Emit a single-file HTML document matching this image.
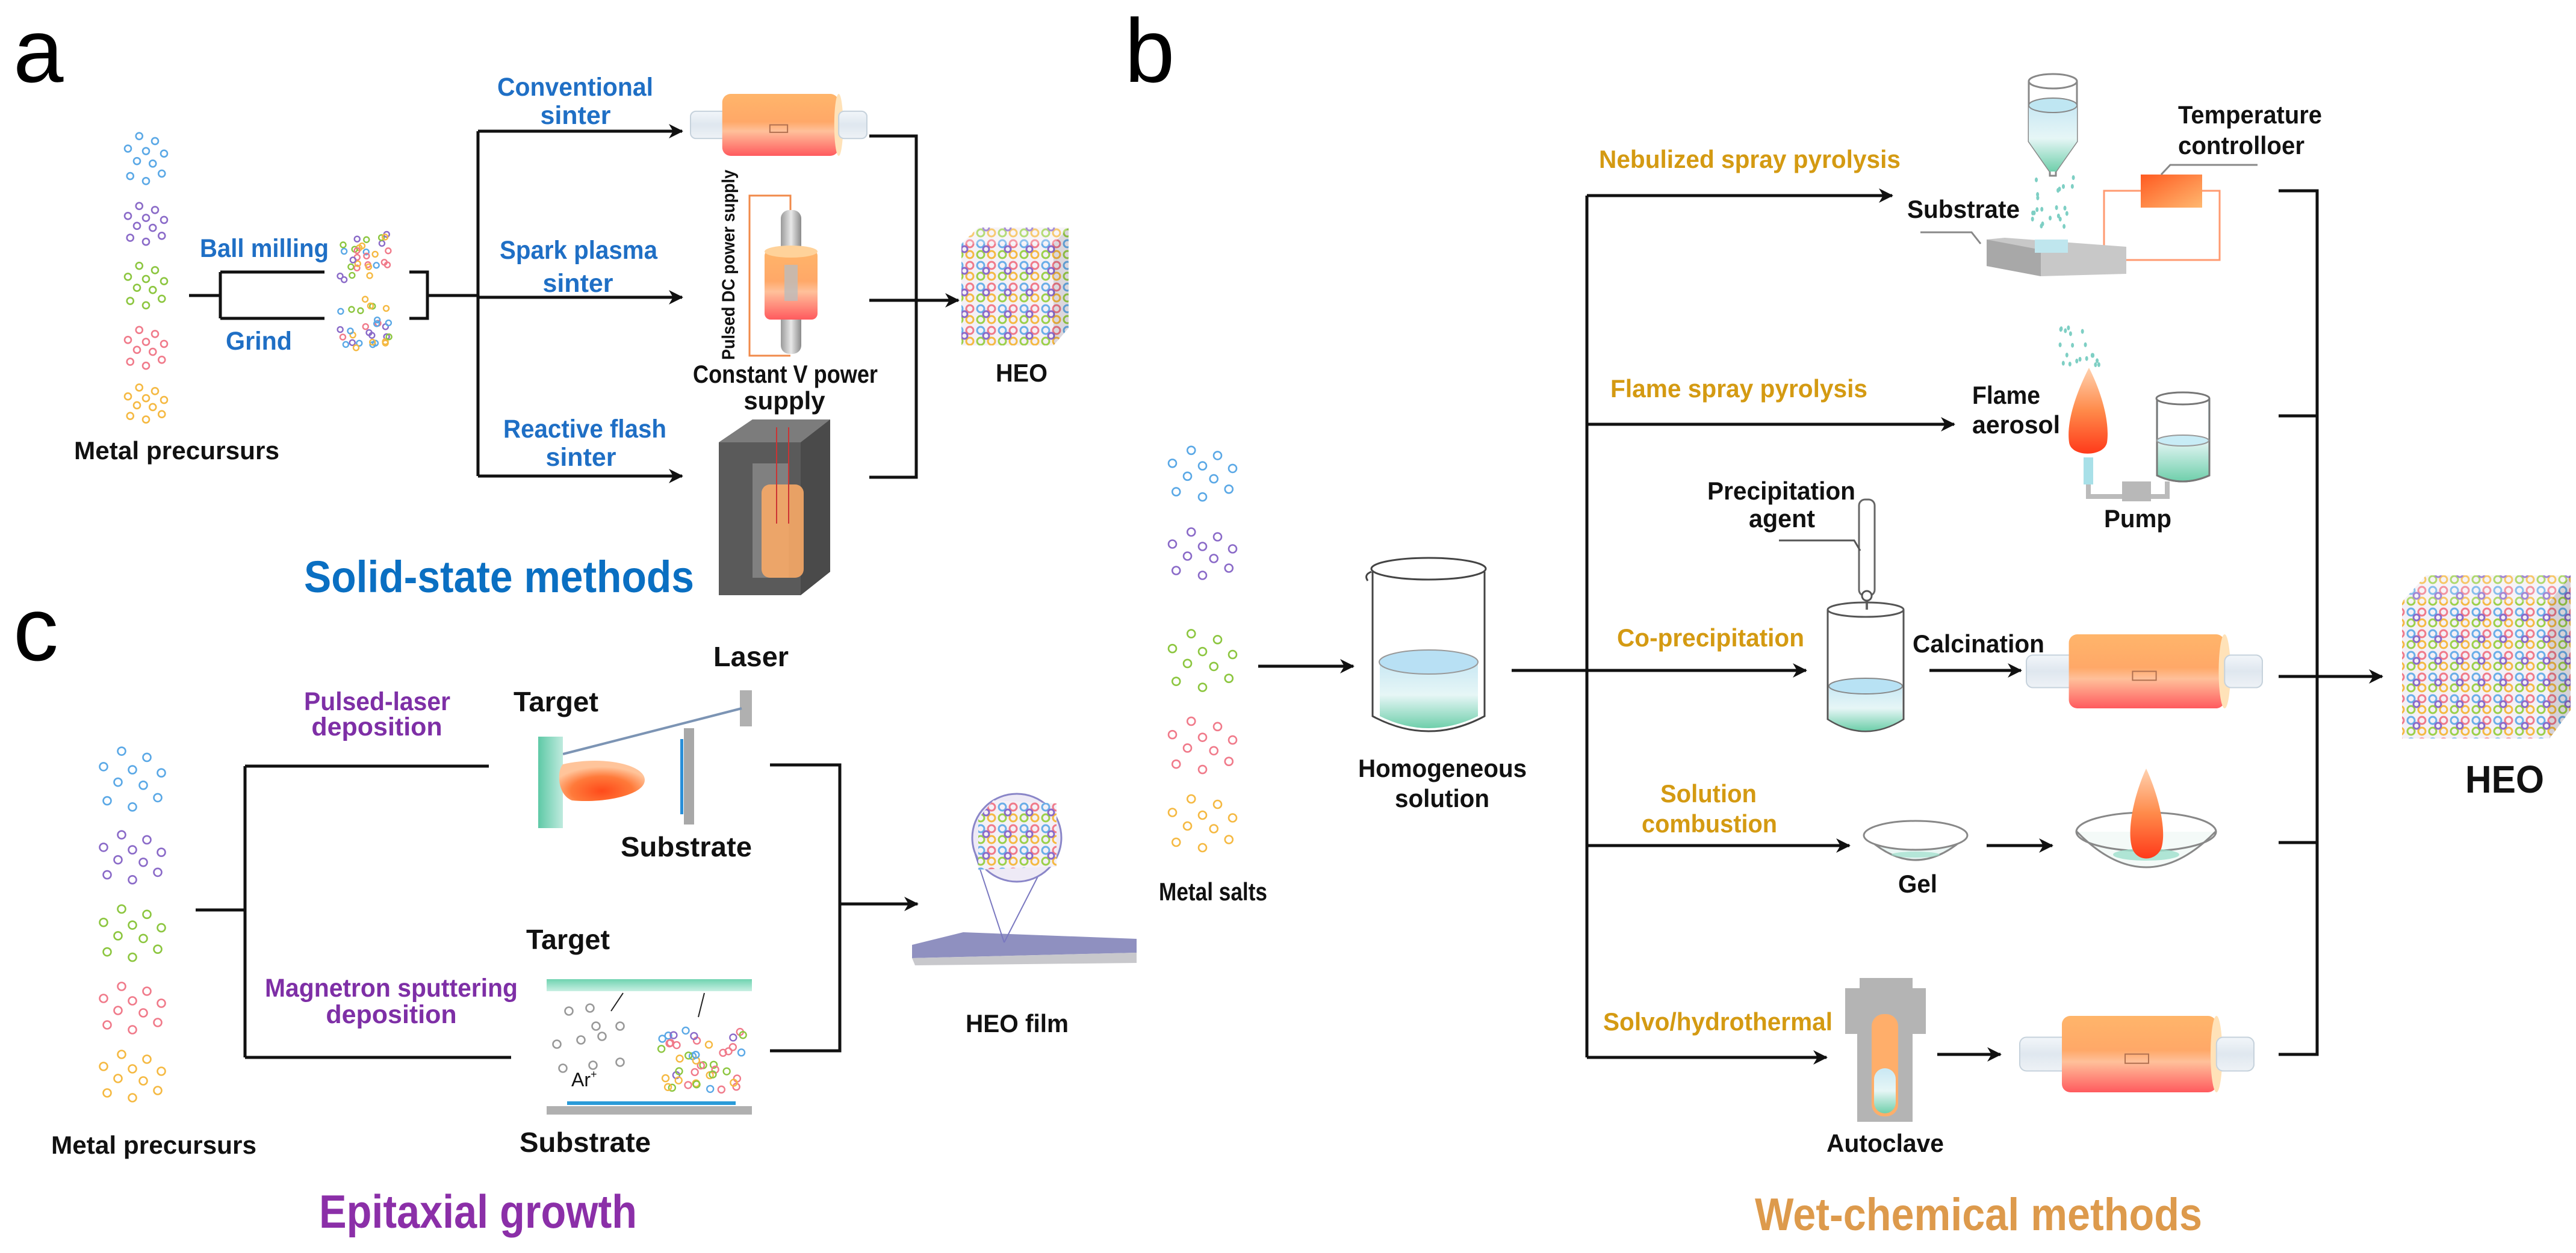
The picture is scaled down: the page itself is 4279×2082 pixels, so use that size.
<!DOCTYPE html>
<html><head><meta charset="utf-8">
<style>
html,body{margin:0;padding:0;background:#fff;}
svg{display:block;}
text{font-family:"Liberation Sans",Arial,sans-serif;font-weight:bold;}
</style></head>
<body>
<svg id="s" xmlns="http://www.w3.org/2000/svg" width="4279" height="2082" viewBox="0 0 4279 2082">
<defs>
<marker id="ar" markerUnits="userSpaceOnUse" markerWidth="30" markerHeight="30" refX="22" refY="15" orient="auto">
<path d="M0,3 L24,15 L0,27 L7,15 Z" fill="#111"/>
</marker>
<linearGradient id="org" x1="0" y1="0" x2="0" y2="1">
<stop offset="0" stop-color="#ffb56a"/><stop offset="0.45" stop-color="#ffa868"/><stop offset="0.6" stop-color="#ffc09a"/><stop offset="1" stop-color="#ff5a5e"/>
</linearGradient>
<linearGradient id="glass" x1="0" y1="0" x2="0" y2="1">
<stop offset="0" stop-color="#f2f6fa"/><stop offset="0.5" stop-color="#dfe7ef"/><stop offset="1" stop-color="#eef2f6"/>
</linearGradient>
<linearGradient id="liq" x1="0" y1="0" x2="0" y2="1">
<stop offset="0" stop-color="#c9e8f4"/><stop offset="0.5" stop-color="#e6f6f6"/><stop offset="1" stop-color="#6fcfab"/>
</linearGradient>
<linearGradient id="rod" x1="0" y1="0" x2="1" y2="0">
<stop offset="0" stop-color="#9a9a9a"/><stop offset="0.5" stop-color="#e8e8e8"/><stop offset="1" stop-color="#8a8a8a"/>
</linearGradient>
<radialGradient id="flame" cx="0.5" cy="0.75" r="0.6">
<stop offset="0" stop-color="#ff4a1a"/><stop offset="0.6" stop-color="#ff7a3a"/><stop offset="1" stop-color="#ffc49a"/>
</radialGradient>
<linearGradient id="flameV" x1="0" y1="0" x2="0" y2="1">
<stop offset="0" stop-color="#ffd2b0"/><stop offset="0.5" stop-color="#ff8a4a"/><stop offset="1" stop-color="#ff3a1a"/>
</linearGradient>
<linearGradient id="tgt" x1="0" y1="0" x2="1" y2="0">
<stop offset="0" stop-color="#5ec9a6"/><stop offset="1" stop-color="#bfeade"/>
</linearGradient>
<linearGradient id="tgtH" x1="0" y1="0" x2="0" y2="1">
<stop offset="0" stop-color="#6fd3b0"/><stop offset="1" stop-color="#c8efe3"/>
</linearGradient>
<linearGradient id="ctrl" x1="0" y1="0" x2="1" y2="1">
<stop offset="0" stop-color="#ff5a20"/><stop offset="1" stop-color="#ffb870"/>
</linearGradient>
<pattern id="heo" width="36" height="36" patternUnits="userSpaceOnUse">
<rect width="36" height="36" fill="#f4f0f6"/>
<circle cx="9" cy="9" r="6" fill="none" stroke="#6aaee8" stroke-width="3"/>
<circle cx="27" cy="9" r="6" fill="none" stroke="#f07a8a" stroke-width="3"/>
<circle cx="9" cy="27" r="6" fill="none" stroke="#9bd04a" stroke-width="3"/>
<circle cx="27" cy="27" r="6" fill="none" stroke="#f5b942" stroke-width="3"/>
<circle cx="18" cy="18" r="5" fill="none" stroke="#8a6ac8" stroke-width="3"/>
</pattern>
</defs>

<!-- ============ Panel letters ============ -->
<text x="22" y="136" font-size="150" font-weight="normal" style="font-weight:normal">a</text>
<text x="1868" y="136" font-size="150" style="font-weight:normal">b</text>
<text x="22" y="1097" font-size="150" style="font-weight:normal">c</text>

<g id="dots"></g>

<!-- ============ Panel a lines ============ -->
<g stroke="#111" stroke-width="5" fill="none">
<path d="M314,491 H366 M366,452 V529 M366,452 H539 M366,529 H539"/>
<path d="M680,452 H710 V529 H680 M710,491 H794"/>
<path d="M794,218 V791"/>
<path d="M794,218 H1133" marker-end="url(#ar)"/>
<path d="M794,494 H1133" marker-end="url(#ar)"/>
<path d="M794,791 H1133" marker-end="url(#ar)"/>
<path d="M1444,226 H1522 V793 H1444"/>
<path d="M1444,499 H1592" marker-end="url(#ar)"/>
</g>

<g font-size="43" fill="#1f6fc5">
<text x="332" y="427" textLength="214" lengthAdjust="spacingAndGlyphs">Ball milling</text>
<text x="375" y="581" textLength="110" lengthAdjust="spacingAndGlyphs">Grind</text>
<text x="826" y="159" textLength="259" lengthAdjust="spacingAndGlyphs">Conventional</text>
<text x="956" y="206" text-anchor="middle">sinter</text>
<text x="830" y="430" textLength="262" lengthAdjust="spacingAndGlyphs">Spark plasma</text>
<text x="960" y="485" text-anchor="middle">sinter</text>
<text x="836" y="727" textLength="271" lengthAdjust="spacingAndGlyphs">Reactive flash</text>
<text x="965" y="774" text-anchor="middle">sinter</text>
</g>
<g font-size="42" fill="#111">
<text x="123" y="763" textLength="341" lengthAdjust="spacingAndGlyphs">Metal  precursurs</text>
<text x="1151" y="636" textLength="307" lengthAdjust="spacingAndGlyphs">Constant V power</text>
<text x="1303" y="680" text-anchor="middle">supply</text>
<text x="1654" y="634" textLength="86" lengthAdjust="spacingAndGlyphs">HEO</text>
<text transform="translate(1220,598) rotate(-90)" font-size="30" textLength="316" lengthAdjust="spacingAndGlyphs">Pulsed DC power supply</text>
</g>
<text x="505" y="984" font-size="74" fill="#0a6fc2" textLength="648" lengthAdjust="spacingAndGlyphs">Solid-state methods</text>

<!-- conventional tube -->
<g id="tube1"></g>
<!-- spark plasma -->
<polyline points="1313,349 1313,325 1245,325 1245,591 1313,591" fill="none" stroke="#f08a4a" stroke-width="3"/>
<rect x="1297" y="349" width="34" height="239" rx="14" fill="url(#rod)"/>
<rect x="1270" y="415" width="88" height="116" rx="10" fill="url(#org)"/>
<ellipse cx="1314" cy="418" rx="44" ry="10" fill="#ffd29a"/>
<rect x="1303" y="440" width="22" height="60" fill="#bbb" opacity="0.8"/>
<!-- flash box -->
<polygon points="1194,735 1250,697 1379,697 1379,950 1330,989 1194,989" fill="#6a6a6a"/>
<polygon points="1194,735 1250,697 1379,697 1330,735" fill="#7c7c7c"/>
<rect x="1194" y="735" width="136" height="254" fill="#5a5a5a"/>
<polygon points="1330,735 1379,697 1379,950 1330,989" fill="#4a4a4a"/>
<rect x="1250" y="770" width="60" height="190" fill="#9a9a9a" opacity="0.6"/>
<rect x="1265" y="805" width="70" height="155" rx="14" fill="#f7a866" opacity="0.9"/>
<line x1="1290" y1="710" x2="1290" y2="870" stroke="#c33" stroke-width="2"/>
<line x1="1310" y1="710" x2="1310" y2="870" stroke="#c33" stroke-width="2"/>
<!-- HEO cube a -->
<polygon points="1597,405 1625,378 1775,378 1775,545 1750,574 1597,574" fill="url(#heo)"/>
<polygon points="1597,405 1625,378 1775,378 1750,405" fill="#ffffff" opacity="0.25"/>
<polygon points="1750,405 1775,378 1775,545 1750,574" fill="#000" opacity="0.1"/>

<!-- ============ Panel c ============ -->
<g stroke="#111" stroke-width="5" fill="none">
<path d="M325,1512 H407 M407,1273 V1757 M407,1273 H812 M407,1757 H849"/>
<path d="M1279,1271 H1395 V1746 H1279"/>
<path d="M1395,1502 H1524" marker-end="url(#ar)"/>
</g>
<g font-size="43" fill="#7e2fa6">
<text x="505" y="1180" textLength="243" lengthAdjust="spacingAndGlyphs">Pulsed-laser</text>
<text x="626" y="1222" text-anchor="middle">deposition</text>
<text x="440" y="1656" textLength="420" lengthAdjust="spacingAndGlyphs">Magnetron sputtering</text>
<text x="650" y="1700" text-anchor="middle">deposition</text>
</g>
<g font-size="46" fill="#111">
<text x="853" y="1182" textLength="141" lengthAdjust="spacingAndGlyphs">Target</text>
<text x="1185" y="1107" textLength="125" lengthAdjust="spacingAndGlyphs">Laser</text>
<text x="1031" y="1423" textLength="218" lengthAdjust="spacingAndGlyphs">Substrate</text>
<text x="874" y="1577" textLength="139" lengthAdjust="spacingAndGlyphs">Target</text>
<text x="863" y="1914" textLength="218" lengthAdjust="spacingAndGlyphs">Substrate</text>
</g>
<g font-size="42" fill="#111">
<text x="85" y="1917" textLength="341" lengthAdjust="spacingAndGlyphs">Metal  precursurs</text>
<text x="1604" y="1715" textLength="171" lengthAdjust="spacingAndGlyphs">HEO film</text>
<text x="1925" y="1496" textLength="180" lengthAdjust="spacingAndGlyphs">Metal  salts</text>
</g>
<text x="949" y="1805" font-size="32" fill="#111" style="font-weight:normal">Ar<tspan font-size="18" dy="-14">+</tspan></text>
<text x="530" y="2040" font-size="78" fill="#8b2fa8" textLength="528" lengthAdjust="spacingAndGlyphs">Epitaxial growth</text>
<!-- PLD -->
<rect x="1229" y="1147" width="20" height="60" fill="#b0b0b0"/>
<line x1="1232" y1="1177" x2="935" y2="1253" stroke="#7c94b4" stroke-width="4"/>
<rect x="894" y="1224" width="41" height="152" fill="url(#tgt)"/>
<path d="M935,1270 C1000,1255 1071,1270 1071,1296 C1071,1322 1000,1335 950,1330 C925,1320 925,1280 935,1270 Z" fill="url(#flame)"/>
<rect x="1136" y="1210" width="17" height="160" fill="#a8a8a8"/>
<rect x="1130" y="1228" width="5" height="125" fill="#2a8fd8"/>
<!-- magnetron -->
<rect x="908" y="1627" width="341" height="20" fill="url(#tgtH)"/>
<rect x="942" y="1830" width="280" height="6" fill="#2a9ad8"/>
<rect x="908" y="1838" width="341" height="14" fill="#b0b0b0"/>
<line x1="1015" y1="1680" x2="1035" y2="1650" stroke="#222" stroke-width="2"/>
<line x1="1170" y1="1650" x2="1160" y2="1690" stroke="#222" stroke-width="2"/>
<!-- HEO film -->
<polygon points="1515,1570 1600,1549 1888,1560 1888,1583 1515,1592" fill="#8f90c0"/>
<polygon points="1515,1592 1888,1583 1888,1600 1520,1604" fill="#c8c8cc"/>
<line x1="1620" y1="1420" x2="1668" y2="1566" stroke="#7a78c0" stroke-width="2"/>
<line x1="1735" y1="1435" x2="1668" y2="1566" stroke="#7a78c0" stroke-width="2"/>
<ellipse cx="1689" cy="1392" rx="74" ry="73" fill="#eeeaf6" stroke="#8a86c8" stroke-width="3"/>
<polygon points="1625,1360 1650,1330 1755,1335 1755,1440 1625,1445" fill="url(#heo)"/>

<!-- ============ Panel b ============ -->
<g stroke="#111" stroke-width="5" fill="none">
<path d="M2636,325 V1757"/>
<path d="M2636,325 H3143" marker-end="url(#ar)"/>
<path d="M2636,705 H3246" marker-end="url(#ar)"/>
<path d="M2511,1114 H3000" marker-end="url(#ar)"/>
<path d="M2636,1405 H3072" marker-end="url(#ar)"/>
<path d="M2636,1757 H3034" marker-end="url(#ar)"/>
<path d="M2090,1107 H2248" marker-end="url(#ar)"/>
<path d="M3205,1114 H3357" marker-end="url(#ar)"/>
<path d="M3300,1405 H3409" marker-end="url(#ar)"/>
<path d="M3218,1752 H3323" marker-end="url(#ar)"/>
<path d="M3785,317 H3849 V1752 H3785 M3785,691 H3849 M3785,1400 H3849"/>
<path d="M3785,1124 H3957" marker-end="url(#ar)"/>
</g>
<g font-size="42" fill="#d49a12">
<text x="2656" y="279" textLength="501" lengthAdjust="spacingAndGlyphs">Nebulized spray pyrolysis</text>
<text x="2675" y="660" textLength="427" lengthAdjust="spacingAndGlyphs">Flame spray pyrolysis</text>
<text x="2686" y="1074" textLength="311" lengthAdjust="spacingAndGlyphs">Co-precipitation</text>
<text x="2758" y="1333" textLength="160" lengthAdjust="spacingAndGlyphs">Solution</text>
<text x="2727" y="1383" textLength="225" lengthAdjust="spacingAndGlyphs">combustion</text>
<text x="2663" y="1712" textLength="381" lengthAdjust="spacingAndGlyphs">Solvo/hydrothermal</text>
</g>
<g font-size="42" fill="#111">
<text x="3618" y="205" textLength="239" lengthAdjust="spacingAndGlyphs">Temperature</text>
<text x="3618" y="256" textLength="210" lengthAdjust="spacingAndGlyphs">controlloer</text>
<text x="3168" y="362" textLength="187" lengthAdjust="spacingAndGlyphs">Substrate</text>
<text x="3276" y="671" textLength="113" lengthAdjust="spacingAndGlyphs">Flame</text>
<text x="3276" y="720" textLength="146" lengthAdjust="spacingAndGlyphs">aerosol</text>
<text x="3495" y="876" textLength="112" lengthAdjust="spacingAndGlyphs">Pump</text>
<text x="2836" y="830" textLength="246" lengthAdjust="spacingAndGlyphs">Precipitation</text>
<text x="2905" y="876" textLength="110" lengthAdjust="spacingAndGlyphs">agent</text>
<text x="3177" y="1084" textLength="219" lengthAdjust="spacingAndGlyphs">Calcination</text>
<text x="2256" y="1291" textLength="280" lengthAdjust="spacingAndGlyphs">Homogeneous</text>
<text x="2317" y="1341" textLength="157" lengthAdjust="spacingAndGlyphs">solution</text>
<text x="3153" y="1483" textLength="65" lengthAdjust="spacingAndGlyphs">Gel</text>
<text x="3034" y="1914" textLength="195" lengthAdjust="spacingAndGlyphs">Autoclave</text>
<text x="4095" y="1317" font-size="64" textLength="131" lengthAdjust="spacingAndGlyphs">HEO</text>
</g>
<text x="2915" y="2044" font-size="76" fill="#dd9a4c" textLength="743" lengthAdjust="spacingAndGlyphs">Wet-chemical methods</text>

<!-- nebulizer -->
<path d="M3370,135 V235 L3405,285 V292 H3415 V285 L3450,235 V135" fill="none" stroke="#888" stroke-width="3"/>
<path d="M3370,175 V235 L3405,285 H3415 L3450,235 V175 Z" fill="url(#liq)"/>
<ellipse cx="3410" cy="135" rx="40" ry="12" fill="#fff" stroke="#888" stroke-width="3"/>
<ellipse cx="3410" cy="175" rx="40" ry="12" fill="#bfe6f2" stroke="#888" stroke-width="2"/>
<rect x="3556" y="290" width="102" height="55" fill="url(#ctrl)"/>
<polyline points="3590,290 3605,274 3750,274" fill="none" stroke="#888" stroke-width="3"/>
<polyline points="3495,415 3495,317 3556,317 M3658,317" fill="none" stroke="#ff9a70" stroke-width="3"/>
<polyline points="3658,317 3687,317 3687,432 3532,432" fill="none" stroke="#ff9a70" stroke-width="3"/>
<polygon points="3300,398 3330,395 3532,410 3532,455 3390,459 3300,442" fill="#c8c8c8"/>
<polygon points="3300,398 3390,415 3390,459 3300,442" fill="#a8a8a8"/>
<rect x="3380" y="398" width="55" height="22" fill="#bfe6ee"/>
<polyline points="3190,386 3275,386 3290,405" fill="none" stroke="#888" stroke-width="3"/>
<!-- flame spray -->
<path d="M3470,611 C3490,650 3505,700 3500,735 C3495,760 3440,760 3437,735 C3432,700 3450,650 3470,611 Z" fill="url(#flameV)"/>
<rect x="3461" y="760" width="16" height="45" fill="#a8e0e8"/>
<path d="M3469,805 V825 H3600 V800" fill="none" stroke="#bbb" stroke-width="8"/>
<rect x="3525" y="800" width="48" height="33" fill="#b8b8b8"/>
<path d="M3583,662 V790 Q3625,810 3670,790 V662" fill="url(#liq)" stroke="#777" stroke-width="3"/>
<rect x="3585" y="662" width="83" height="70" fill="#fff"/>
<path d="M3583,662 V790 Q3625,810 3670,790 V662" fill="none" stroke="#777" stroke-width="3"/>
<ellipse cx="3626" cy="662" rx="44" ry="10" fill="#fff" stroke="#777" stroke-width="3"/>
<ellipse cx="3626" cy="732" rx="43" ry="9" fill="#c8ecf6" stroke="#999" stroke-width="2"/>
<!-- burette -->
<rect x="3088" y="830" width="26" height="160" rx="10" fill="#fff" stroke="#666" stroke-width="3"/>
<line x1="3101" y1="990" x2="3101" y2="1080" stroke="#666" stroke-width="4"/>
<circle cx="3101" cy="990" r="8" fill="#fff" stroke="#555" stroke-width="3"/>
<polyline points="2955,898 3080,898 3090,915" fill="none" stroke="#555" stroke-width="3"/>
<!-- copr beaker -->
<path d="M3036,1013 V1195 Q3099,1235 3162,1195 V1013" fill="#fff" stroke="#555" stroke-width="3"/>
<path d="M3038,1140 V1195 Q3099,1233 3160,1195 V1140 Z" fill="url(#liq)"/>
<ellipse cx="3099" cy="1140" rx="61" ry="13" fill="#b8e2f4" stroke="#888" stroke-width="2"/>
<ellipse cx="3099" cy="1013" rx="63" ry="12" fill="none" stroke="#555" stroke-width="3"/>
<!-- homogeneous beaker -->
<path d="M2280,950 V1190 Q2373,1240 2466,1190 V950" fill="#fff" stroke="#444" stroke-width="3"/>
<path d="M2292,1100 V1190 Q2373,1230 2455,1190 V1100 Z" fill="url(#liq)"/>
<ellipse cx="2373" cy="1100" rx="82" ry="20" fill="#b8e0f4" stroke="#999" stroke-width="2"/>
<ellipse cx="2373" cy="945" rx="95" ry="18" fill="none" stroke="#444" stroke-width="3"/>
<path d="M2278,950 Q2265,955 2272,965" fill="none" stroke="#444" stroke-width="3"/>
<!-- gel dish -->
<path d="M3097,1388 Q3182,1470 3268,1388" fill="#eaf6f4" stroke="#888" stroke-width="3"/>
<ellipse cx="3182" cy="1388" rx="86" ry="24" fill="#fff" stroke="#888" stroke-width="3"/>
<ellipse cx="3182" cy="1420" rx="40" ry="5" fill="#9ee0cc" opacity="0.7"/>
<!-- combustion dish -->
<path d="M3450,1382 Q3565,1500 3680,1382" fill="#f4faf8" stroke="#888" stroke-width="3"/>
<ellipse cx="3565" cy="1382" rx="116" ry="32" fill="none" stroke="#888" stroke-width="3"/>
<ellipse cx="3565" cy="1420" rx="55" ry="10" fill="#9ee0cc" opacity="0.8"/>
<path d="M3565,1277 C3585,1320 3600,1380 3590,1410 C3580,1432 3550,1432 3542,1410 C3532,1380 3545,1320 3565,1277 Z" fill="url(#flameV)"/>
<!-- autoclave -->
<rect x="3089" y="1625" width="88" height="20" fill="#b4b4b4"/>
<rect x="3065" y="1642" width="134" height="76" fill="#b4b4b4"/>
<rect x="3085" y="1715" width="92" height="149" fill="#b4b4b4"/>
<rect x="3109" y="1685" width="44" height="170" rx="20" fill="#ffae6a"/>
<rect x="3113" y="1775" width="36" height="75" rx="18" fill="url(#liq)"/>
<!-- HEO cube b -->
<polygon points="3990,1000 4030,956 4270,956 4270,1180 4235,1227 3990,1227" fill="url(#heo)"/>
<polygon points="3990,1000 4030,956 4270,956 4235,1000" fill="#fff" opacity="0.2"/>
<polygon points="4235,1000 4270,956 4270,1180 4235,1227" fill="#000" opacity="0.12"/>

<g id="tubes"></g>
<g id="sprays"></g>
</svg>
<script>
(function(){
var NS="http://www.w3.org/2000/svg";
var seed=7;function r(){seed=(seed*16807)%2147483647;return (seed-1)/2147483646;}
function el(p,t,a){var e=document.createElementNS(NS,t);for(var k in a)e.setAttribute(k,a[k]);p.appendChild(e);return e;}
var S=document.getElementById('s');
var D=document.getElementById('dots');
var cols=["#5aa8e6","#8a6ac8","#8cc63f","#f07a8a","#f5b942"];
var layout=[[0.35,0.05],[0.7,0.15],[0.1,0.3],[0.5,0.35],[0.9,0.4],[0.3,0.55],[0.65,0.6],[0.85,0.8],[0.15,0.85],[0.5,0.95]];
function group(x,y,w,h,c,rad){layout.forEach(function(p){el(D,'circle',{cx:x+p[0]*w,cy:y+p[1]*h,r:rad||5.5,fill:'none',stroke:c,'stroke-width':2.6});});}
function column(x,w,ys,rad){ys.forEach(function(g,i){group(x,g[0],w,g[1]-g[0],cols[i],rad);});}
column(205,75,[[222,305],[339,405],[438,511],[545,611],[641,700]]);
column(160,120,[[1243,1346],[1383,1466],[1506,1595],[1635,1715],[1748,1828]],6.5);
column(1935,125,[[744,830],[880,960],[1048,1147],[1194,1283],[1323,1413]],6.5);
function mix(x,y,w,h,n,rad){for(var i=0;i<n;i++){el(D,'circle',{cx:x+r()*w,cy:y+r()*h,r:rad,fill:'none',stroke:cols[Math.floor(r()*5)],'stroke-width':2.4});}}
mix(565,385,85,80,30,4.5);
mix(565,497,85,82,30,4.5);
mix(1095,1712,140,103,45,5.5);
[[945,1680],[980,1675],[990,1705],[1030,1705],[925,1735],[965,1728],[1000,1722],[935,1775],[985,1770],[1030,1765]].forEach(function(p){el(D,'circle',{cx:p[0],cy:p[1],r:6.5,fill:'none',stroke:'#999','stroke-width':2.6});});
// tubes
var T=document.getElementById('tubes');
function tube(x,y,w,h){
 var gy=y+h*0.28,gh=h*0.44;
 el(T,'rect',{x:x,y:gy,width:w,height:gh,rx:gh*0.2,fill:'url(#glass)',stroke:'#c6d2dc','stroke-width':2});
 el(T,'rect',{x:x+w*0.18,y:y,width:w*0.66,height:h,rx:14,fill:'url(#org)'});
 el(T,'ellipse',{cx:x+w*0.84,cy:y+h/2,rx:w*0.025,ry:h/2,fill:'#ffe2b8'});
 el(T,'rect',{x:x+w*0.84,y:gy,width:w*0.16,height:gh,rx:gh*0.2,fill:'url(#glass)',stroke:'#c6d2dc','stroke-width':2});
 el(T,'rect',{x:x+w*0.45,y:y+h*0.5,width:w*0.1,height:h*0.12,fill:'none',stroke:'#b07050','stroke-width':2});
}
tube(1147,156,293,103);
tube(3366,1054,392,123);
tube(3355,1688,389,127);
// sprays
var P=document.getElementById('sprays');
function spray(x,y,w,h,n){for(var i=0;i<n;i++){el(P,'ellipse',{cx:x+r()*w,cy:y+r()*h,rx:2.5,ry:4,fill:'#7ecfc4'});}}
spray(3375,295,75,85,22);
spray(3420,541,70,68,20);
})();
</script>
</body></html>
